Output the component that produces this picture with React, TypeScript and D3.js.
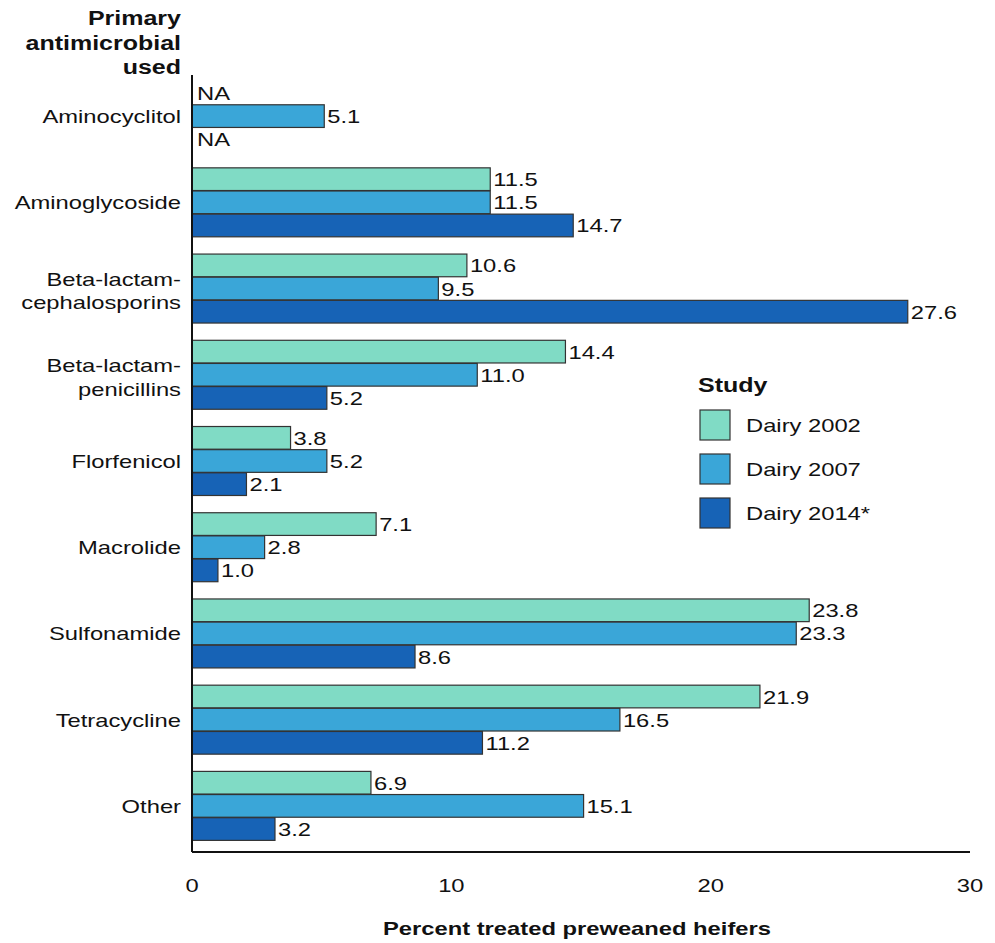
import React from "react";
import * as d3 from "d3";

const categories = ["Aminocyclitol", "Aminoglycoside", "Beta-lactam-\ncephalosporins", "Beta-lactam-\npenicillins", "Florfenicol", "Macrolide", "Sulfonamide", "Tetracycline", "Other"];
const series = ["Dairy 2002", "Dairy 2007", "Dairy 2014*"];
const d2002: (number | null)[] = [null, 11.5, 10.6, 14.4, 3.8, 7.1, 23.8, 21.9, 6.9];
const d2007: (number | null)[] = [5.1, 11.5, 9.5, 11.0, 5.2, 2.8, 23.3, 16.5, 15.1];
const d2014: (number | null)[] = [null, 14.7, 27.6, 5.2, 2.1, 1.0, 8.6, 11.2, 3.2];
const xTicks = [0, 10, 20, 30];
const colors = ["#80dbc5", "#3aa6d8", "#1763b6"];

const SX = 1.25;

function T(props: { x: number; y: number; anchor?: string; size?: number; bold?: boolean; children: React.ReactNode }) {
  const { x, y, anchor = "start", size = 19, bold = false, children } = props;
  return (
    <text
      transform={`translate(${x},${y}) scale(${SX},1)`}
      textAnchor={anchor}
      fontSize={size}
      fontWeight={bold ? "bold" : "normal"}
      fill="#111"
    >
      {children}
    </text>
  );
}

export default function App() {
  const W = 995, H = 943;
  const x = d3.scaleLinear().domain([0, 30]).range([192, 970]);
  const y0 = d3.scaleBand().domain(categories).range([73, 849]).paddingInner(0.2).paddingOuter(0.1);
  const y1 = d3.scaleBand().domain(series).range([0, y0.bandwidth()]).paddingInner(0.02);
  const all = [d2002, d2007, d2014];
  const font = "Liberation Sans, Arial, sans-serif";
  return (
    <svg width={W} height={H} style={{ position: "absolute", left: 0, top: 0 }} fontFamily={font}>
      <rect width={W} height={H} fill="#fff" />
      <T x={181} y={25} anchor="end" size={20} bold>Primary</T>
      <T x={181} y={50} anchor="end" size={20} bold>antimicrobial</T>
      <T x={181} y={74} anchor="end" size={20} bold>used</T>
      {categories.map((c) => {
        const lines = c.split("\n");
        const cy = y0(c)! + y0.bandwidth() / 2;
        const base = lines.length > 1 ? cy + 9 : cy + 7;
        return (
          <g key={c}>
            {lines.map((l, j) => (
              <T key={j} x={181} y={base + (j - (lines.length - 1) / 2) * 23.5} anchor="end">{l}</T>
            ))}
          </g>
        );
      })}
      {categories.map((c, i) =>
        all.map((arr, s) => {
          const v = arr[i];
          const yy = y0(c)! + y1(series[s])!;
          const h = y1.bandwidth();
          if (v === null) {
            return <T key={c + s} x={x(0) + 5} y={yy + h / 2 + 7}>NA</T>;
          }
          return (
            <g key={c + s}>
              <rect x={x(0)} y={yy} width={x(v) - x(0)} height={h} fill={colors[s]} stroke="#333" strokeWidth={1.2} />
              <T x={x(v) + 3} y={yy + h / 2 + 7}>{v.toFixed(1)}</T>
            </g>
          );
        })
      )}
      <line x1={x(0)} x2={x(0)} y1={75} y2={852} stroke="#111" strokeWidth={2} />
      <line x1={x(0)} x2={x(30)} y1={852} y2={852} stroke="#111" strokeWidth={2} />
      {xTicks.map((t) => (
        <T key={t} x={x(t)} y={892} anchor="middle">{t}</T>
      ))}
      <T x={577} y={935} anchor="middle" bold>Percent treated preweaned heifers</T>
      <T x={698} y={392} size={20} bold>Study</T>
      {series.map((s, i) => (
        <g key={s}>
          <rect x={700} y={410 + i * 44} width={30} height={30} fill={colors[i]} stroke="#333" strokeWidth={1.2} />
          <T x={746} y={432 + i * 44}>{s}</T>
        </g>
      ))}
    </svg>
  );
}
